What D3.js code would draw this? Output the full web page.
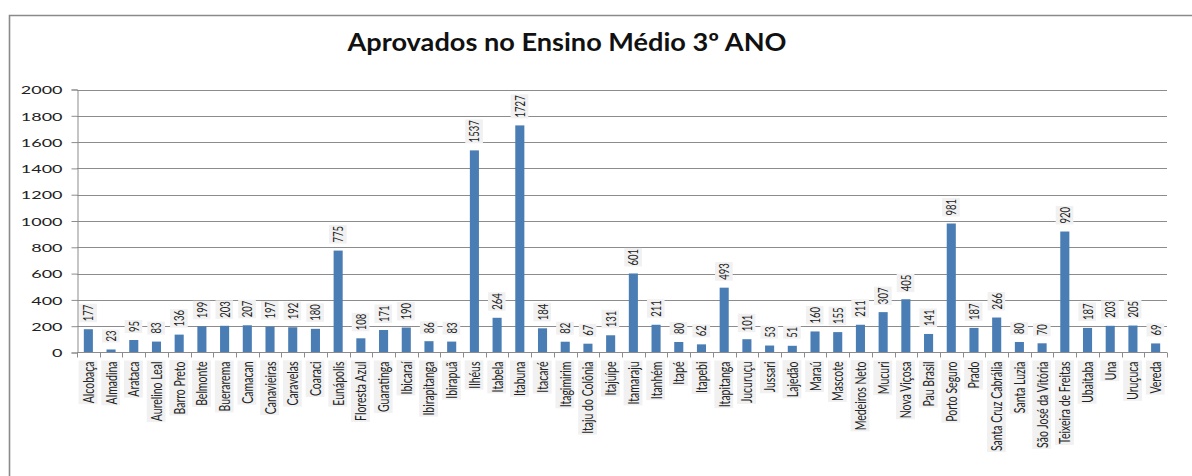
<!DOCTYPE html>
<html>
<head>
<meta charset="utf-8">
<script src="https://cdn.jsdelivr.net/npm/d3@7"></script>
<style>
  html, body { margin: 0; padding: 0; background: #ffffff; }
  svg { display: block; }
</style>
</head>
<body>
<svg id="chart" width="1192" height="476"></svg>
<script>
// Municípios e número de aprovados no 3º ano do Ensino Médio
const municipios = [
  "Alcobaça", "Almadina", "Arataca", "Aurelino Leal", "Barro Preto", "Belmonte",
  "Buerarema", "Camacan", "Canavieiras", "Caravelas", "Coaraci", "Eunápolis",
  "Floresta Azul", "Guaratinga", "Ibicaraí", "Ibirapitanga", "Ibirapuã", "Ilhéus",
  "Itabela", "Itabuna", "Itacaré", "Itagimirim", "Itaju do Colônia", "Itajuípe",
  "Itamaraju", "Itanhém", "Itapé", "Itapebi", "Itapitanga", "Jucuruçu", "Jussari",
  "Lajedão", "Maraú", "Mascote", "Medeiros Neto", "Mucuri", "Nova Viçosa",
  "Pau Brasil", "Porto Seguro", "Prado", "Santa Cruz Cabrália", "Santa Luzia",
  "São José da Vitória", "Teixeira de Freitas", "Ubaitaba", "Una", "Uruçuca", "Vereda"
];
const aprovados = [
  177, 23, 95, 83, 136, 199,
  203, 207, 197, 192, 180, 775,
  108, 171, 190, 86, 83, 1537,
  264, 1727, 184, 82, 67, 131,
  601, 211, 80, 62, 493, 101, 53,
  51, 160, 155, 211, 307, 405,
  141, 981, 187, 266, 80,
  70, 920, 187, 203, 205, 69
];
const yTicks = [0, 200, 400, 600, 800, 1000, 1200, 1400, 1600, 1800, 2000];
const titulo = "Aprovados no Ensino Médio 3º ANO";

const svg = d3.select("#chart");
const plotLeft = 77, plotRight = 1167, plotTop = 89.5, plotBottom = 352.5;
const stretch = 1.5; // texts are drawn horizontally widened
const font = "Lato, 'Open Sans', sans-serif";

// Outer frame
svg.append("path")
  .attr("d", `M9.5,480 V15.5 H1200`)
  .attr("fill", "none").attr("stroke", "#8a8a8a").attr("stroke-width", 1.6);

// Title
svg.append("text")
  .attr("x", 567).attr("y", 51)
  .attr("text-anchor", "middle")
  .attr("font-family", font).attr("font-weight", 700)
  .attr("font-size", 24).attr("fill", "#111")
  .attr("textLength", 439).attr("lengthAdjust", "spacingAndGlyphs")
  .text(titulo);

const x = d3.scaleBand().domain(municipios).range([plotLeft, plotRight]).paddingInner(0.6).paddingOuter(0.3);
const y = d3.scaleLinear().domain([0, 2000]).range([plotBottom, plotTop]);

// Gridlines
svg.append("g").selectAll("line").data(yTicks.filter(d => d > 0)).join("line")
  .attr("x1", plotLeft).attr("x2", plotRight)
  .attr("y1", d => Math.round(y(d)) + 0.5).attr("y2", d => Math.round(y(d)) + 0.5)
  .attr("stroke", "#8c8c8c").attr("stroke-width", 1);

// Y axis
const yAxis = svg.append("g")
  .attr("transform", `translate(${plotLeft + 0.5},0)`)
  .call(d3.axisLeft(y).tickValues(yTicks).tickSize(6).tickPadding(0).tickFormat(d3.format("d")));
yAxis.select(".domain").attr("stroke", "#8c8c8c");
yAxis.selectAll(".tick line").attr("stroke", "#8c8c8c");
yAxis.selectAll(".tick text").remove();
yAxis.selectAll(".tick").append("text")
  .attr("transform", `translate(-15,0) scale(${stretch},1)`)
  .attr("text-anchor", "end").attr("dy", "0.35em")
  .attr("font-family", font).attr("font-size", 12).attr("fill", "#222")
  .text(d => d);

// Bars
svg.append("g").selectAll("rect").data(aprovados).join("rect")
  .attr("x", (d, i) => x(municipios[i]))
  .attr("width", x.bandwidth())
  .attr("y", d => y(d))
  .attr("height", d => plotBottom - y(d))
  .attr("fill", "#4a7db4");

// X axis: line with ticks between categories
const bounds = d3.range(municipios.length + 1).map(i => plotLeft + i * (plotRight - plotLeft) / municipios.length);
svg.append("line")
  .attr("x1", plotLeft).attr("x2", plotRight).attr("y1", plotBottom).attr("y2", plotBottom)
  .attr("stroke", "#8c8c8c");
svg.append("g").selectAll("line").data(bounds).join("line")
  .attr("x1", d => Math.round(d) + 0.5).attr("x2", d => Math.round(d) + 0.5)
  .attr("y1", plotBottom).attr("y2", plotBottom + 5)
  .attr("stroke", "#8c8c8c");

// Helper: rotated text with a light backing box
function rotatedLabel(g, tx, ty, anchor, size, str) {
  const grp = g.append("g").attr("transform", `translate(${tx},${ty}) scale(${stretch},1) rotate(-90)`);
  const bg = grp.append("rect").attr("fill", "#f1f1f1");
  const t = grp.append("text")
    .attr("text-anchor", anchor).attr("dy", "0.35em")
    .attr("font-family", font).attr("font-size", size).attr("fill", "#222")
    .text(str);
  const b = t.node().getBBox();
  bg.attr("x", b.x - 1).attr("y", b.y).attr("width", b.width + 2).attr("height", b.height);
}

// Category labels
const catG = svg.append("g");
municipios.forEach(m => {
  rotatedLabel(catG, x(m) + x.bandwidth() / 2, plotBottom + 9, "end", 10.5, m);
});

// Value labels
const valG = svg.append("g");
aprovados.forEach((v, i) => {
  rotatedLabel(valG, x(municipios[i]) + x.bandwidth() / 2, y(v) - 8, "start", 9.5, String(v));
});
</script>
</body>
</html>
